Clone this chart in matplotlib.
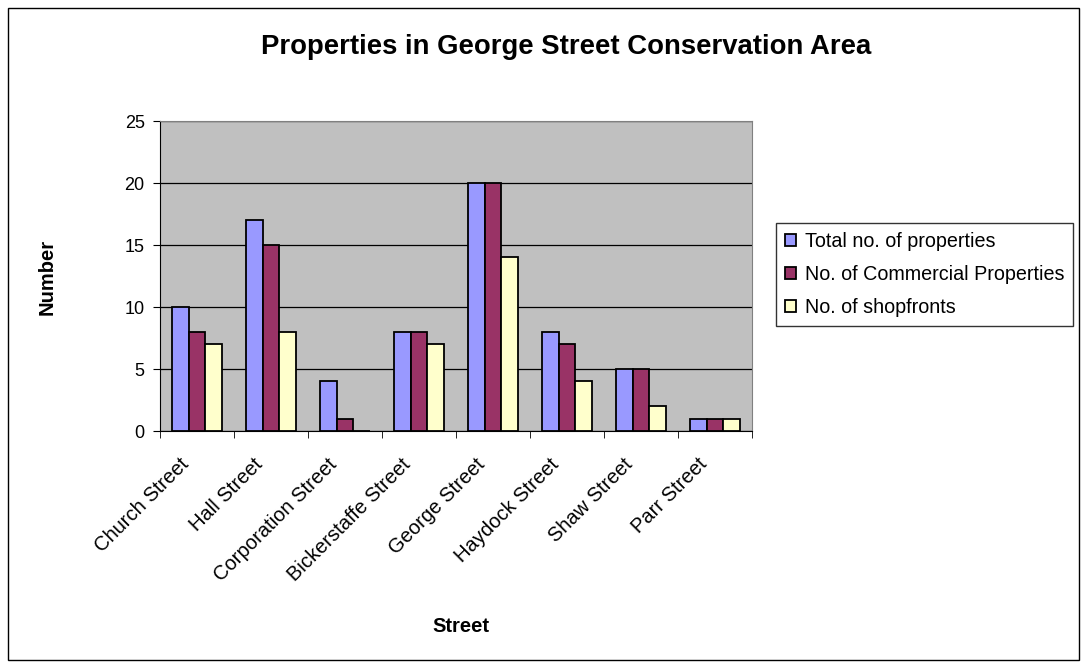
import matplotlib
matplotlib.use("Agg")
import matplotlib.pyplot as plt
import matplotlib.transforms as mtransforms
import numpy as np
from matplotlib.patches import Rectangle

plt.rcParams['font.family'] = ['Liberation Sans', 'DejaVu Sans']

streets = ["Church Street", "Hall Street", "Corporation Street", "Bickerstaffe Street",
           "George Street", "Haydock Street", "Shaw Street", "Parr Street"]
total = [10, 17, 4, 8, 20, 8, 5, 1]
commercial = [8, 15, 1, 8, 20, 7, 5, 1]
shopfronts = [7, 8, 0, 7, 14, 4, 2, 1]
series_names = ["Total no. of properties", "No. of Commercial Properties", "No. of shopfronts"]
colors = ["#9999FF", "#993366", "#FFFFCC"]

fig = plt.figure(figsize=(10.87, 6.68), dpi=100)
fig.patches.append(Rectangle((8/1087, 1-660/668), 1071/1087, 652/668, transform=fig.transFigure,
                             fill=False, edgecolor='black', linewidth=1))
ax = fig.add_axes([160/1087, 1-431/668, 592/1087, 310/668])
ax.set_facecolor("#C0C0C0")

x = np.arange(len(streets))
w = 0.225
for i, (vals, c, n) in enumerate(zip([total, commercial, shopfronts], colors, series_names)):
    ax.bar(x + (i-1)*w, vals, width=w, color=c, edgecolor='black', linewidth=1.3, label=n, zorder=3)

ax.set_xlim(-0.5, len(streets)-0.5)
ax.set_ylim(0, 25)
ax.set_yticks(range(0, 26, 5))
ax.yaxis.grid(True, color='black', linewidth=0.9, zorder=1)
ax.set_axisbelow(True)
for s in ['top', 'right']:
    ax.spines[s].set_color('#808080')
for s in ['left', 'bottom']:
    ax.spines[s].set_color('black')
ax.tick_params(axis='y', direction='out', length=5, labelsize=13, pad=6)
ax.set_xticks(x)
ax.set_xticklabels(streets, rotation=45, ha='right', va='center', rotation_mode='anchor', fontsize=14.5)
ax.tick_params(axis='x', which='major', length=0, pad=22)
offset = mtransforms.ScaledTranslation(-11/100, 0, fig.dpi_scale_trans)
for lab in ax.get_xticklabels():
    lab.set_transform(lab.get_transform() + offset)
ax.set_xticks(np.arange(-0.5, len(streets), 1), minor=True)
ax.tick_params(axis='x', which='minor', length=5, direction='out')

fig.text(566/1087, 1-47/668, "Properties in George Street Conservation Area", ha='center', va='center',
         fontsize=19.8, fontweight='bold')
fig.text(461/1087, 1-626/668, "Street", ha='center', va='center', fontsize=14.5, fontweight='bold')
fig.text(47/1087, 1-277/668, "Number", ha='center', va='center', fontsize=14.5, fontweight='bold', rotation=90)

leg = fig.legend(loc='upper left', bbox_to_anchor=(776/1087, 1-223/668), fontsize=14.2,
                 frameon=True, fancybox=False, edgecolor='black', handlelength=0.55, handleheight=0.55,
                 handletextpad=0.45, labelspacing=0.72, borderpad=0.45, borderaxespad=0)
leg.get_frame().set_linewidth(1)

fig.savefig("out.png", dpi=100)
